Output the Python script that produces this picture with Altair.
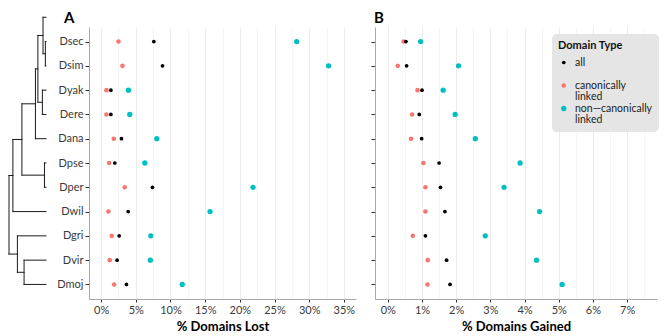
import altair as alt
import pandas as pd

# ---------------- data ----------------
species = ["Dsec", "Dsim", "Dyak", "Dere", "Dana", "Dpse", "Dper", "Dwil", "Dgri", "Dvir", "Dmoj"]
types = ["all", "canonically linked", "non\u2014canonically linked"]

lost_all = [7.6, 8.85, 1.4, 1.4, 2.93, 1.97, 7.4, 3.9, 2.6, 2.3, 3.65]
lost_can = [2.5, 3.07, 0.76, 0.76, 1.82, 1.15, 3.4, 1.05, 1.53, 1.24, 1.87]
lost_non = [28.2, 32.8, 3.94, 4.13, 8.03, 6.3, 21.9, 15.7, 7.16, 7.1, 11.7]

gain_all = [0.53, 0.55, 1.0, 0.92, 0.99, 1.5, 1.54, 1.67, 1.1, 1.72, 1.82]
gain_can = [0.46, 0.29, 0.87, 0.71, 0.68, 1.04, 1.1, 1.1, 0.73, 1.17, 1.16]
gain_non = [0.96, 2.07, 1.62, 1.97, 2.56, 3.87, 3.4, 4.44, 2.85, 4.35, 5.1]

lost_ticks = [0, 2.5, 5, 7.5, 10, 12.5, 15, 17.5, 20, 22.5, 25, 27.5, 30, 32.5, 35]
gain_ticks = [0, 0.5, 1, 1.5, 2, 2.5, 3, 3.5, 4, 4.5, 5, 5.5, 6, 6.5, 7, 7.5]

# phylogeny: tips (top to bottom), internal nodes, parents, depths (branch-length units)
tree_tips = ["Dmel"] + species
tree_nodes = ["root", "soph", "dros", "obsmel", "melana", "melsub", "melsim", "secsim",
              "yakere", "pseper", "virmoj"] + tree_tips
tree_parents = [None, "root", "root", "soph", "obsmel", "melana", "melsub", "melsim",
                "melsub", "obsmel", "dros",
                "melsim", "secsim", "secsim", "yakere", "yakere", "melana", "pseper",
                "pseper", "soph", "dros", "virmoj", "virmoj"]
tree_depth = [0, 4.3, 9.3, 14.3, 29.3, 32, 37.7, 40.3, 37, 39.3, 16.7] + [41] * 12

# ---------------- tables ----------------
rows = []
for i, sp in enumerate(species):
    for t, lo, ga in [(types[1], lost_can[i], gain_can[i]),
                      (types[2], lost_non[i], gain_non[i]),
                      (types[0], lost_all[i], gain_all[i])]:
        rows.append(dict(species=sp, type=t, lost=lo, gained=ga))
df = pd.DataFrame(rows)

depth = dict(zip(tree_nodes, tree_depth))
parent = dict(zip(tree_nodes, tree_parents))
children = {n: [] for n in tree_nodes}
for n, p in parent.items():
    if p is not None:
        children[p].append(n)

ypos = {}
def node_y(n):
    if n in ypos:
        return ypos[n]
    if not children[n]:
        ypos[n] = tree_tips.index(n) - 1
    else:
        ys = [node_y(c) for c in children[n]]
        ypos[n] = sum(ys) / len(ys)
    return ypos[n]

segs = []
for n in tree_nodes:
    y = node_y(n)
    if parent[n] is not None:
        segs.append(dict(x=depth[parent[n]], x2=depth[n], y=y, y2=y))
    if children[n]:
        cy = [node_y(c) for c in children[n]]
        segs.append(dict(x=depth[n], x2=depth[n], y=min(cy), y2=max(cy)))
seg = pd.DataFrame(segs)

# ---------------- chart ----------------
PLOT_H = 272
MAJOR = "#ebebeb"
MINOR = "#f6f6f6"

tree = alt.Chart(seg).mark_rule(color="#1a1a1a", strokeWidth=1, strokeCap="square").encode(
    x=alt.X("x:Q", scale=alt.Scale(domain=[0, 67.6], nice=False, zero=False), axis=None),
    x2="x2:Q",
    y=alt.Y("y:Q", scale=alt.Scale(domain=[-0.6, 10.6], reverse=True, nice=False, zero=False), axis=None),
    y2="y2:Q",
).properties(width=61, height=PLOT_H)

leg = alt.Legend(
    title="Domain Type", orient="none", legendX=543, legendY=7,
    fillColor="#e5e5e5", cornerRadius=5, padding=6,
    titleFontSize=11, titleFontWeight="bold", titleColor="#111111", titlePadding=5.5,
    labelFontSize=10.5, labelColor="#222222", labelExpr="split(datum.label, ' ')",
    gridAlign="all", rowPadding=0, clipHeight=12, labelOffset=6, symbolOffset=0.5,
)
color = alt.Color("type:N", scale=alt.Scale(domain=types, range=["#000000", "#F8766D", "#00BFC4"]),
                  legend=leg, title="Domain Type")
size = alt.Size("type:N", scale=alt.Scale(domain=types, range=[14, 28, 28]),
                legend=leg, title="Domain Type")


def xaxis(vals, unit):
    test = f"abs(datum.value % {unit}) < 1e-9"
    return alt.Axis(
        values=vals,
        labelExpr=f"{test} ? datum.value + '%' : ''",
        gridColor={"condition": {"test": test, "value": MAJOR}, "value": MINOR},
        tickOpacity={"condition": {"test": test, "value": 1}, "value": 0},
    )


yA = alt.Y("species:N", sort=species, title=None,
           scale=alt.Scale(type="point", padding=0.6),
           axis=alt.Axis(labelPadding=2, tickSize=4))
yB = alt.Y("species:N", sort=species, title=None,
           scale=alt.Scale(type="point", padding=0.6),
           axis=alt.Axis(labels=False, tickSize=4))

panelA = alt.Chart(df).mark_circle(opacity=1).encode(
    x=alt.X("lost:Q", title="% Domains Lost",
            scale=alt.Scale(domain=[-1.75, 36.75], nice=False, zero=False),
            axis=xaxis(lost_ticks, 5)),
    y=yA, color=color, size=size,
).properties(width=267, height=PLOT_H,
             title=alt.TitleParams("A", anchor="start", frame="group", dx=-25))

panelB = alt.Chart(df).mark_circle(opacity=1).encode(
    x=alt.X("gained:Q", title="% Domains Gained",
            scale=alt.Scale(domain=[-0.375, 7.875], nice=False, zero=False),
            axis=xaxis(gain_ticks, 1)),
    y=yB, color=color, size=size,
).properties(width=282, height=PLOT_H,
             title=alt.TitleParams("B", anchor="start", frame="group", dx=-1))

chart = alt.hconcat(tree, panelA, panelB, spacing=19, bounds="flush").properties(
    padding={"top": 3, "left": 0, "right": 0, "bottom": 0}
).configure(
    font="Lato", style={"guide-label": {"lineHeight": 11.5}}
).configure_view(stroke=None).configure_axis(
    labelFont="Lato", labelFontSize=11, labelColor="#3a3a3a",
    titleFont="Lato", titleFontSize=13, titleFontWeight="bold", titleColor="#000000",
    titlePadding=5, labelPadding=2,
    domainColor="#a8a8a8", domainWidth=1,
    tickColor="#333333", tickSize=3,
    gridColor=MAJOR, gridWidth=1,
).configure_title(
    font="Lato", fontSize=15, fontWeight="bold", color="#000000", offset=1,
)

chart.save("out.html", embed_options={"renderer": "svg", "actions": False})
